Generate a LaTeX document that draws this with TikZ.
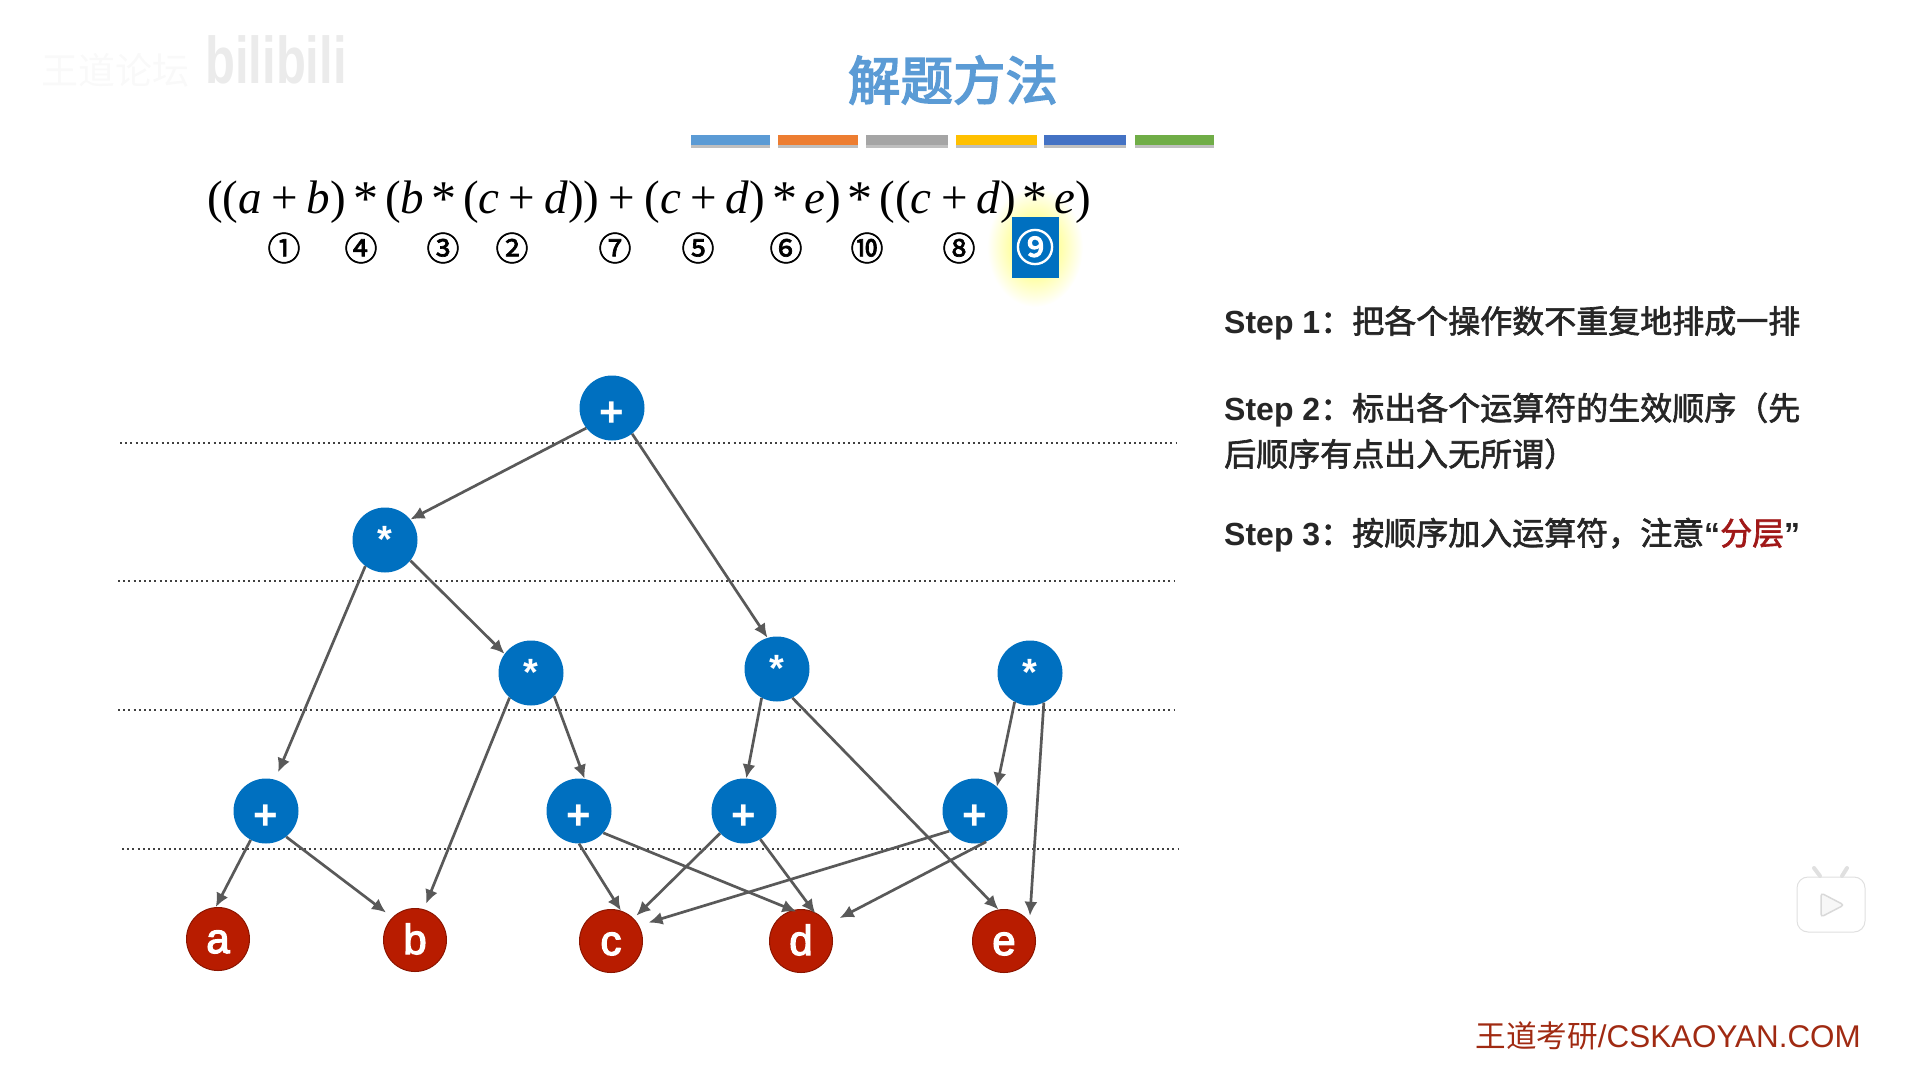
\documentclass[tikz,border=0pt]{standalone}
\usepackage{fontspec}
\setmainfont{Liberation Sans}
\newfontfamily\serifmath{Liberation Serif}
\newfontfamily\cjk{Noto Sans CJK SC}
\newfontfamily\cjkstep[FakeBold=2]{Noto Sans CJK SC}
\newfontfamily\cjkorder[FakeBold=2]{Noto Sans CJK SC}
\newfontfamily\cjktitle[FakeBold=3]{Noto Sans CJK SC}
\newfontfamily\letterfont[FakeBold=3]{Liberation Sans}
\definecolor{opblue}{HTML}{0070C0}
\definecolor{varred}{HTML}{B81C00}
\definecolor{vardark}{HTML}{8C1500}
\definecolor{titleblue}{HTML}{5B9BD5}
\definecolor{barorange}{HTML}{ED7D31}
\definecolor{bargray}{HTML}{A5A5A5}
\definecolor{baryellow}{HTML}{FFC000}
\definecolor{barblue}{HTML}{4472C4}
\definecolor{bargreen}{HTML}{70AD47}
\definecolor{arrowgray}{HTML}{595959}
\definecolor{footred}{HTML}{A02A12}
\definecolor{layerred}{HTML}{A01818}
\usetikzlibrary{arrows.meta}
\tikzset{
  opnode/.style={circle, fill=opblue, text=white, minimum size=65pt, inner sep=0pt,
    font=\fontsize{38}{38}\selectfont\bfseries, text depth=0pt},
  plusnode/.style={opnode, font=\fontsize{42}{42}\selectfont\bfseries, text height=36pt},
  mulnode/.style={opnode, text height=24pt},
  varnode/.style={circle, fill=varred, draw=vardark, line width=1pt, text=white, minimum size=63pt, inner sep=0pt,
    font=\fontsize{42}{42}\selectfont\letterfont, text height=28pt, text depth=0pt},
  treeedge/.style={draw=arrowgray, line width=2.7pt, -{Latex[length=14pt,width=13pt]}},
  layerline/.style={draw=black!75, line width=2pt, dash pattern=on 2pt off 3.2pt},
  orderlabel/.style={font=\fontsize{33}{33}\selectfont\cjkorder},
  steplabel/.style={anchor=base west, align=left, inner sep=0pt, font=\fontsize{32}{46}\selectfont, text=black!85},
}
\newcommand{\opplus}{\hspace{9.2pt}+\hspace{9.2pt}}
\newcommand{\opstar}{\hspace{7pt}{\raisebox{-2pt}{\fontsize{50}{50}\selectfont *}}\hspace{7pt}}
\newcommand{\stepname}[1]{{\bfseries Step #1}}
\begin{document}
\begin{tikzpicture}[x=1pt, y=-1pt]
  \useasboundingbox (0,0) rectangle (1908,1068);

  % Watermarks
  \node[font=\fontsize{37}{37}\selectfont\cjk, text=black!2.5] (markName) at (115,70) {王道论坛};
  \node[font=\fontsize{49}{49}\selectfont\bfseries, text=black!8] (markSite) at (276,60) {\scalebox{1}[1.35]{bilibili}};

  % Title and colour bars
  \node[font=\fontsize{52.5}{52.5}\selectfont\cjktitle, text=titleblue] (title) at (953,80) {解题方法};
  \fill[black!25] (691,139) rectangle (770,148);
  \fill[black!25] (778,139) rectangle (858,148);
  \fill[black!25] (866,139) rectangle (948,148);
  \fill[black!25] (956,139) rectangle (1037,148);
  \fill[black!25] (1044,139) rectangle (1126,148);
  \fill[black!25] (1135,139) rectangle (1214,148);
  \fill[titleblue] (691,135) rectangle (770,145);
  \fill[barorange] (778,135) rectangle (858,145);
  \fill[bargray] (866,135) rectangle (948,145);
  \fill[baryellow] (956,135) rectangle (1037,145);
  \fill[barblue] (1044,135) rectangle (1126,145);
  \fill[bargreen] (1135,135) rectangle (1214,145);

  % Glow behind the current number
  \shade[inner color=yellow!70, outer color=white] (1035,247) ellipse (48 and 60);

  % Expression
  \node[anchor=base west, inner sep=0pt, font=\fontsize{47}{47}\selectfont\serifmath] (expr) at (207,213)
    {((\textit{a}\opplus\textit{b})\opstar(\textit{b}\opstar(\textit{c}\opplus\textit{d}))\opplus(\textit{c}\opplus\textit{d})\opstar\textit{e})\opstar((\textit{c}\opplus\textit{d})\opstar\textit{e})};

  % Evaluation order
  \node[orderlabel] (orderA) at (284,248) {①};
  \node[orderlabel] (orderB) at (361,248) {④};
  \node[orderlabel] (orderC) at (443,248) {③};
  \node[orderlabel] (orderD) at (512,248) {②};
  \node[orderlabel] (orderE) at (615,248) {⑦};
  \node[orderlabel] (orderF) at (698,248) {⑤};
  \node[orderlabel] (orderG) at (786,248) {⑥};
  \node[orderlabel] (orderH) at (867,248) {⑩};
  \node[orderlabel] (orderI) at (959,248) {⑧};
  \node[orderlabel, fill=opblue, text=white, minimum width=47pt, minimum height=61pt, inner sep=0pt, font=\fontsize{38}{38}\selectfont\cjktitle] (orderJ) at (1035,247) {⑨};

  % Layers
  \draw[layerline] (120,443) -- (1176,443);
  \draw[layerline] (118,581) -- (1174,581);
  \draw[layerline] (118,710) -- (1174,710);
  \draw[layerline] (122,849) -- (1178,849);

  % Operators
  \node[plusnode] (root) at (612,408) {+};
  \node[mulnode] (mulA) at (385,540) {*};
  \node[mulnode] (mulB) at (531,673) {*};
  \node[mulnode] (mulC) at (777,669) {*};
  \node[mulnode] (mulD) at (1030,673) {*};
  \node[plusnode] (plusA) at (266,811) {+};
  \node[plusnode] (plusB) at (579,811) {+};
  \node[plusnode] (plusC) at (744,811) {+};
  \node[plusnode] (plusD) at (975,811) {+};

  % Operands
  \node[varnode] (varA) at (218,939) {a};
  \node[varnode] (varB) at (415,940) {b};
  \node[varnode] (varC) at (611,941) {c};
  \node[varnode] (varD) at (801,941) {d};
  \node[varnode] (varE) at (1004,941) {e};

  % Edges
  \draw[treeedge] (root.218) -- (mulA.39);
  \draw[treeedge] (root.-52) -- (mulC.107);
  \draw[treeedge, shorten >=8pt] (mulA.233) -- (plusA.74);
  \draw[treeedge] (mulA.-39) -- (mulB.144);
  \draw[treeedge, shorten >=6pt] (mulB.229) -- (varB.74);
  \draw[treeedge] (mulB.-45) -- (plusB.80);
  \draw[treeedge] (mulC.242) -- (plusC.86);
  \draw[treeedge] (mulC.-62) -- (varE.100);
  \draw[treeedge] (mulD.242) -- (plusD.48);
  \draw[treeedge, shorten >=6pt] (mulD.-65) -- (varE.37);
  \draw[treeedge] (plusA.242) -- (varA.94);
  \draw[treeedge, shorten >=8pt] (plusA.-52) -- (varB.135);
  \draw[treeedge] (plusB.270) -- (varC.72);
  \draw[treeedge, shorten >=-4pt] (plusB.-42) -- (varD.105);
  \draw[treeedge, shorten >=4pt] (plusC.223) -- (varC.45);
  \draw[treeedge, shorten >=-2pt] (plusC.-60) -- (varD.66);
  \draw[treeedge, shorten >=10pt] (plusD.218) -- (varC.29);
  \draw[treeedge, shorten >=13pt] (plusD.-70) -- (varD.32);

  % Steps
  \node[steplabel] (stepA) at (1224,333) {\stepname{1}{\cjkstep：把各个操作数不重复地排成一排}};
  \node[steplabel] (stepB) at (1224,466) {\stepname{2}{\cjkstep：标出各个运算符的生效顺序（先}\\{\cjkstep 后顺序有点出入无所谓）}};
  \node[steplabel] (stepC) at (1224,545) {\stepname{3}{\cjkstep：按顺序加入运算符，注意}{\bfseries\textquotedblleft}{\cjkstep\textcolor{layerred}{分层}}{\bfseries\textquotedblright}};

  % Footer and player icon
  \node[anchor=base east, inner sep=0pt, text=footred, font=\fontsize{31.4}{31.4}\selectfont] (footer) at (1861,1047) {{\fontsize{30.6}{30.6}\selectfont\cjk 王道考研}/CSKAOYAN.COM};
  \draw[black!12, line width=1pt, fill=white, rounded corners=11pt] (1797,877) rectangle (1865,932);
  \draw[black!12, line width=4pt, line cap=round] (1814,868) -- (1820,876);
  \draw[black!12, line width=4pt, line cap=round] (1847,868) -- (1842,876);
  \draw[black!15, line width=1.5pt, fill=black!3, rounded corners=3pt] (1821,893) -- (1844,905) -- (1821,917) -- cycle;
\end{tikzpicture}
\end{document}
